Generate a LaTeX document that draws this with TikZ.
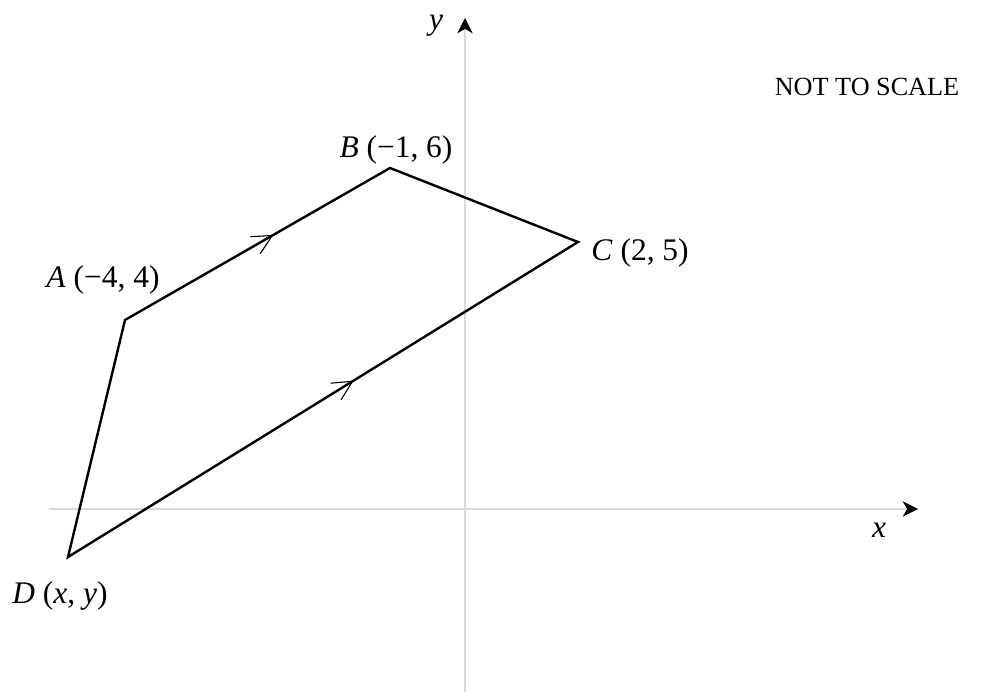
\documentclass[tikz,border=0pt]{standalone}
\usepackage{fontspec}
\setmainfont{Liberation Serif}
\usetikzlibrary{arrows.meta,decorations.markings}
\definecolor{eje}{HTML}{DADADA}

\begin{document}
\begin{tikzpicture}[
    x=0.458pt,y=-0.458pt,
    every node/.style={font=\fontsize{14.4}{17}\selectfont,inner sep=0pt},
    axis/.style={draw=eje,line width=0.5pt,-{Stealth[length=7pt,width=7pt,inset=2pt,color=black]}},
    side/.style={line width=1.1pt,line join=miter},
    parallel/.style={decoration={markings,mark=at position 0.56 with
        {\arrow[line width=0.5pt]{Straight Barb[length=9pt,width=9pt]}}},postaction={decorate}}
  ]
    \useasboundingbox (0,0) rectangle (992,693);
    % axes
    \coordinate (xstart) at (49,509);
    \coordinate (xend) at (918,509);
    \coordinate (ystart) at (465,692);
    \coordinate (yend) at (465,18);
    \draw[axis] (xstart) -- (xend);
    \draw[axis] (ystart) -- (yend);
    \node (xlabel) at (879,530) {\textit{x}};
    \node (ylabel) at (436,26) {\textit{y}};
    % vertices
    \coordinate (A) at (125,320);
    \coordinate (B) at (390,168);
    \coordinate (C) at (578,242);
    \coordinate (D) at (68,557);
    \draw[side] (A) -- (B) -- (C) -- (D) -- cycle;
    \path[parallel] (A) -- (B);
    \path[parallel] (D) -- (C);
    % labels
    \node (labA) at (103,280) {\textit{A} (−4, 4)};
    \node (labB) at (396,150) {\textit{B} (−1, 6)};
    \node[anchor=west] (labC) at (591,253) {\textit{C} (2, 5)};
    \node (labD) at (60,596) {\textit{D} (\textit{x}, \textit{y})};
    \node[font=\fontsize{12}{14}\selectfont] (note) at (867,87) {NOT TO SCALE};
  \end{tikzpicture}
\end{document}
